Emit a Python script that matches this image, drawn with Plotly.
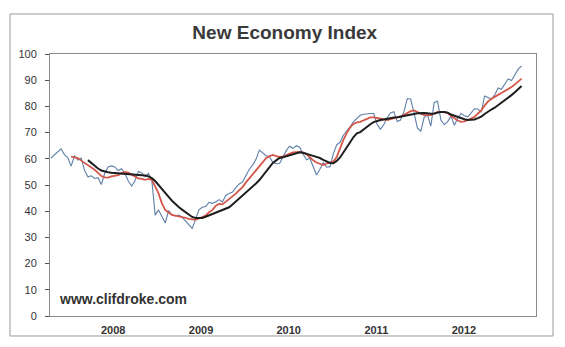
import pandas as pd
import plotly.graph_objects as go

# Weekly index sampled every two weeks, starting mid-April 2007
start_date = "2007-04-17"
step = "14D"

index_values = [
    60.3, 61.5, 62.7, 63.8, 61.6, 60.5, 57.2, 61.2, 59.5, 60.3,
    55.5, 53.1, 53.5, 52.5, 52.8, 50.2, 54.5, 56.9, 57.3, 56.9,
    55.5, 56.2, 54.5, 51.5, 49.6, 51.6, 55.2, 54.6, 53.2, 54.4,
    51.9, 38.5, 40.5, 38.0, 35.5, 40.2, 38.5, 38.2, 38.5, 37.7,
    36.4, 35.1, 33.4, 36.8, 40.5, 41.5, 41.8, 43.4, 43.0, 43.5,
    44.4, 43.5, 46.0, 46.8, 47.3, 49.0, 50.4, 51.2, 53.7, 56.0,
    57.6, 59.8, 63.3, 62.1, 61.2, 60.8, 58.6, 58.1, 58.2, 60.7,
    63.2, 64.8, 64.0, 65.0, 64.4, 61.7, 59.6, 60.2, 57.2, 53.8,
    56.0, 58.5, 56.8, 57.0, 62.0, 65.3, 66.3, 69.0, 70.8, 72.2,
    74.2, 75.6, 76.6, 77.0, 77.2, 77.3, 77.3, 73.3, 71.3, 73.0,
    75.7, 77.5, 78.0, 74.2, 74.8, 78.0, 83.0, 82.8, 77.5, 71.8,
    70.5, 75.7, 76.8, 72.5, 81.5, 82.0, 74.8, 73.0, 74.2, 76.3,
    72.8, 75.6, 77.3, 76.4, 76.0, 77.4, 79.1, 79.0, 77.9, 84.0,
    83.5, 82.8, 84.4, 87.0, 86.5, 88.5, 90.5, 89.9, 91.8, 94.2,
    95.5,
]

# Shorter moving average (begins a few periods after the index)
short_avg = [None] * 6 + [
    60.8, 60.6, 60.3, 59.3, 58.5, 57.6, 56.6, 55.8, 54.6, 53.4,
    52.9, 52.8, 53.3, 53.5, 53.8, 54.5, 55.0, 54.7, 54.0, 53.0,
    52.5, 52.3, 52.0, 52.3, 52.0, 49.5, 46.8, 43.0, 40.5, 39.5,
    38.6, 38.3, 38.1, 37.9, 37.5, 37.1, 36.8, 36.7, 37.2, 37.7,
    38.3, 39.6, 40.4, 42.0, 42.8, 42.6, 43.6, 44.8, 45.7, 46.7,
    48.0, 49.2, 51.0, 52.6, 54.2, 55.5, 57.2, 58.8, 60.2, 61.0,
    61.5, 61.0, 60.7, 60.8, 61.5, 62.0, 62.4, 62.6, 62.6, 62.4,
    61.8, 60.6, 59.4, 58.6, 58.0, 57.6, 58.2, 58.6, 59.0, 60.7,
    64.3, 67.2, 69.8, 72.0, 73.3, 73.9, 74.1, 74.6, 75.2, 75.8,
    75.8, 75.6, 75.5, 75.1, 74.8, 75.2, 75.6, 75.8, 76.0, 76.8,
    77.5, 78.2, 78.5, 77.9, 77.3, 76.7, 76.7, 76.7, 77.2, 77.9,
    77.9, 77.7, 77.5, 76.4, 75.4, 74.6, 74.1, 74.3, 74.8, 75.4,
    76.0, 77.3, 78.5, 80.3, 81.9, 82.8, 83.7, 84.4, 85.1, 85.8,
    86.5, 87.4, 88.4, 89.7, 90.6,
]

# Longer moving average
long_avg = [None] * 11 + [
    59.5, 58.4, 57.2, 56.3, 55.5, 55.1, 54.9, 54.7, 54.6, 54.5,
    54.3, 54.2, 54.1, 54.0, 53.9, 53.8, 53.8, 53.6, 53.3, 52.6,
    51.5, 49.9, 48.3, 46.8, 45.5, 44.0, 42.6, 41.6, 40.6, 39.6,
    38.7, 37.8, 37.4, 37.3, 37.4, 37.9, 38.4, 39.0, 39.5, 39.8,
    40.2, 40.8, 41.5, 42.6, 43.7, 44.9, 46.0, 47.0, 48.1, 49.3,
    50.6, 51.9, 53.5, 55.4, 57.0, 58.4, 59.4, 60.3, 60.6, 61.0,
    61.4, 61.8, 62.2, 62.5, 62.3, 62.0, 61.5, 61.1, 60.7, 60.3,
    59.6, 58.9, 58.4, 58.3, 59.2, 60.5, 62.3, 64.1, 66.3, 68.3,
    69.7, 70.2, 71.3, 72.3, 73.2, 74.0, 74.5, 74.8, 75.0, 75.3,
    75.6, 75.8, 75.9, 76.1, 76.3, 76.5, 76.8, 77.1, 77.4, 77.5,
    77.5, 77.4, 77.2, 77.3, 77.7, 77.9, 77.9, 77.6, 76.9, 76.4,
    76.1, 75.7, 75.1, 74.8, 74.8, 75.0, 75.5, 76.1, 77.1, 78.1,
    78.8, 79.5, 80.4, 81.3, 82.3, 83.2, 84.3, 85.4, 86.7, 87.8,
]

year_ticks = ["2008-01-01", "2009-01-01", "2010-01-01", "2011-01-01", "2012-01-01"]
year_labels = ["2008", "2009", "2010", "2011", "2012"]
y_ticks = list(range(0, 101, 10))

dates = pd.date_range(start_date, periods=len(index_values), freq=step)

fig = go.Figure()
fig.add_trace(go.Scatter(x=dates, y=index_values, mode="lines",
                         line=dict(color="#5f7fa8", width=1.1),
                         name="Index", hoverinfo="skip"))
fig.add_trace(go.Scatter(x=dates, y=short_avg, mode="lines",
                         line=dict(color="#d4574a", width=1.8),
                         name="Short MA", hoverinfo="skip"))
fig.add_trace(go.Scatter(x=dates, y=long_avg, mode="lines",
                         line=dict(color="#1e1e1e", width=2.0),
                         name="Long MA", hoverinfo="skip"))

font_family = "Liberation Sans, Arial, sans-serif"

fig.update_layout(
    width=565, height=347,
    margin=dict(l=50, r=29, t=54, b=31),
    paper_bgcolor="white", plot_bgcolor="white",
    showlegend=False,
    font=dict(family=font_family, color="#333333", size=11),
    title=dict(text="<b>New Economy Index</b>", x=0.504, xref="container",
               y=0.906, yref="container", xanchor="center", yanchor="middle",
               font=dict(size=19, color="#3a3a3a", family=font_family)),
    xaxis=dict(
        range=["2007-04-13", "2012-10-27"],
        tickvals=year_ticks,
        ticktext=["<b>%s</b>" % t for t in year_labels],
        ticks="", showgrid=False, zeroline=False,
        showline=True, linecolor="#8a8a8a", linewidth=1, mirror=True,
        tickfont=dict(size=11, color="#333333"),
        ticklabelstandoff=4,
    ),
    yaxis=dict(
        range=[0, 100], tickvals=y_ticks,
        ticks="outside", ticklen=4, tickcolor="#555555",
        showgrid=False, zeroline=False,
        showline=True, linecolor="#8a8a8a", linewidth=1, mirror=True,
        tickfont=dict(size=11, color="#333333"),
        ticklabelstandoff=6,
    ),
)

# Outer frame around the whole chart
fig.add_shape(type="rect", xref="paper", yref="paper",
              x0=-0.0823, x1=1.035, y0=-0.0763, y1=1.1527,
              line=dict(color="#9a9a9a", width=1), fillcolor="rgba(0,0,0,0)",
              layer="below")

fig.add_annotation(text="<b>www.clifdroke.com</b>", xref="paper", yref="paper",
                   x=0.015, y=0.065, xanchor="left", yanchor="middle",
                   showarrow=False,
                   font=dict(size=14, color="#333333", family=font_family))

fig.write_html("out.html")
